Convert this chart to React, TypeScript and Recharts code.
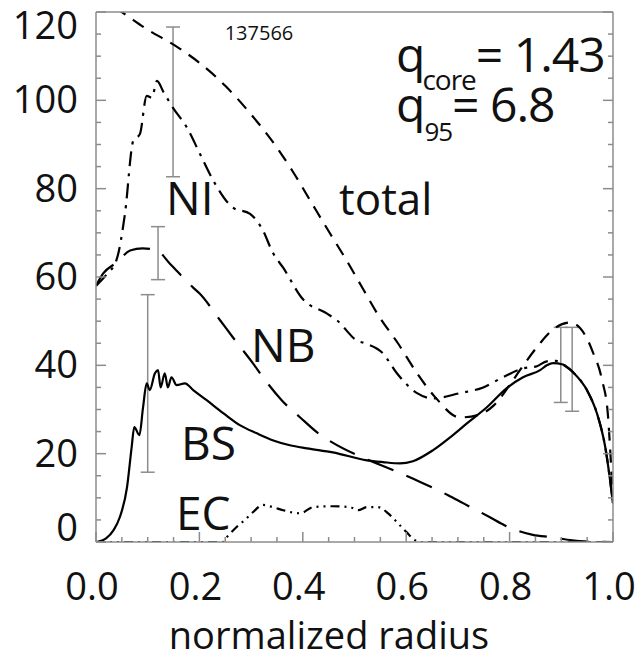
import React from 'react';
import { ComposedChart, Line, Scatter, ErrorBar, XAxis, YAxis } from 'recharts';

// current density profiles vs normalized radius
const totalR = [0, 0.052, 0.1, 0.15, 0.2, 0.25, 0.3, 0.35, 0.38, 0.42, 0.453, 0.485, 0.516, 0.549, 0.584, 0.621, 0.656, 0.704, 0.74, 0.77, 0.8, 0.82, 0.859, 0.878, 0.917, 0.95, 0.961, 0.979, 0.99, 0.994, 1.0];
const totalV = [123.7, 119.8, 116, 112.6, 108.5, 103.3, 96.8, 89.3, 84, 76.2, 69.8, 63.7, 57.4, 50.8, 45, 38.2, 32.8, 28.2, 28.8, 31, 35.5, 38.9, 45, 47.5, 49.7, 46, 43, 36.6, 29, 22, 9];

const niR = [0, 0.02, 0.04, 0.056, 0.072, 0.085, 0.098, 0.108, 0.118, 0.13, 0.137, 0.149, 0.176, 0.201, 0.227, 0.265, 0.298, 0.323, 0.342, 0.362, 0.4, 0.447, 0.466, 0.505, 0.52, 0.555, 0.582, 0.621, 0.652, 0.704, 0.749, 0.787, 0.826, 0.853, 0.872, 0.89, 0.903, 0.923, 0.95, 0.969, 0.985, 1.0];
const niV = [58, 60.5, 64, 74.3, 90.8, 92.4, 101, 100.6, 104.4, 102, 100.6, 98.3, 93.8, 87.9, 81.8, 75.7, 74.3, 70.5, 65.5, 62.1, 55, 51.7, 50.2, 45.6, 45, 42.7, 38.2, 33.7, 32.5, 33.7, 35, 37.3, 39.3, 39.8, 40.9, 41, 40.2, 38.4, 34.3, 29.1, 21.5, 8.8];

const nbR = [0, 0.014, 0.04, 0.066, 0.09, 0.118, 0.143, 0.188, 0.2, 0.24, 0.265, 0.304, 0.323, 0.36, 0.395, 0.43, 0.456, 0.514, 0.543, 0.598, 0.627, 0.681, 0.71, 0.762, 0.79, 0.845, 0.88, 0.936, 1.0];
const nbV = [58, 60.8, 63.3, 66, 66.5, 66, 63, 57.6, 56.3, 50.2, 46.3, 40.4, 37.3, 32, 28.2, 24.6, 22.6, 19.2, 17.8, 15.1, 13.6, 10.6, 8.8, 5.6, 3.8, 1.6, 1.1, 0.2, 0];

const bsR = [0, 0.02, 0.034, 0.046, 0.06, 0.069, 0.074, 0.084, 0.091, 0.098, 0.104, 0.114, 0.12, 0.125, 0.133, 0.139, 0.146, 0.156, 0.172, 0.188, 0.214, 0.246, 0.279, 0.311, 0.343, 0.375, 0.408, 0.458, 0.524, 0.555, 0.588, 0.613, 0.652, 0.685, 0.718, 0.756, 0.794, 0.826, 0.859, 0.872, 0.884, 0.903, 0.923, 0.95, 0.969, 0.985, 1.0];
const bsV = [0, 0.9, 2.7, 5.6, 12.4, 21.5, 26, 24.2, 30.5, 35.9, 34.4, 38.2, 38.9, 35, 38.2, 35, 37.3, 35.5, 35.9, 34.4, 32.1, 29.2, 26.4, 24.6, 23, 21.9, 21.2, 20.3, 18.5, 18.1, 17.8, 18.3, 20.8, 23.7, 26.9, 30.5, 34.8, 37.3, 38.9, 40, 40.5, 40.2, 38.4, 34.3, 29.1, 21.5, 8.8];

const ecR = [0, 0.245, 0.253, 0.272, 0.288, 0.304, 0.323, 0.342, 0.362, 0.395, 0.42, 0.458, 0.491, 0.507, 0.524, 0.545, 0.565, 0.582, 0.6, 0.617, 0.625, 1.0];
const ecV = [0, 0, 1.1, 3.4, 5, 6.8, 8.4, 7.9, 7.2, 6.5, 7.9, 8.1, 7.9, 7.2, 7.9, 7.9, 6.5, 4.5, 2.3, 0.4, 0, 0];

// error bars
const errR = [0.1, 0.12, 0.149, 0.899, 0.921];
const errLow = [15.8, 59.4, 82.7, 31.6, 29.6];
const errHigh = [56, 71.4, 116.6, 48.6, 48.6];

const xTicks = Array.from({ length: 21 }, (_, i) => i * 0.05);
const yTicks = Array.from({ length: 25 }, (_, i) => i * 5);

const FRAME = '#8c8c8c';
const FONT = '"Open Sans", sans-serif';

const toRows = (rs: number[], vs: number[]) => rs.map((r, i) => ({ r, v: vs[i] }));

const totalData = toRows(totalR, totalV);
const niData = toRows(niR, niV);
const nbData = toRows(nbR, nbV);
const bsData = toRows(bsR, bsV);
const ecData = toRows(ecR, ecV);
const errData = errR.map((r, i) => {
  const mid = (errLow[i] + errHigh[i]) / 2;
  return { r, v: mid, err: [mid - errLow[i], errHigh[i] - mid] };
});

const isMajor = (v: number, step: number) => Math.abs(v / step - Math.round(v / step)) < 1e-6;

const BottomTick = (props: any) => {
  const { x, y, payload } = props;
  const major = isMajor(payload.value, 0.2);
  return (
    <g>
      <line x1={x} x2={x} y1={y} y2={y - (major ? 10 : 5)} stroke={FRAME} strokeWidth={1.5} />
      {major && (
        <text x={x - 4} y={y + 58} textAnchor="middle" fontSize={38} fontFamily={FONT} fill="#111">
          {payload.value.toFixed(1)}
        </text>
      )}
    </g>
  );
};

const TopTick = (props: any) => {
  const { x, y, payload } = props;
  const major = isMajor(payload.value, 0.2);
  return <line x1={x} x2={x} y1={y} y2={y + (major ? 10 : 5)} stroke={FRAME} strokeWidth={1.5} />;
};

const LeftTick = (props: any) => {
  const { x, y, payload } = props;
  const v = payload.value;
  const major = isMajor(v, 20);
  // end labels sit inside the frame in the original
  const shift = v === 0 ? -14 : v === 120 ? 14 : 0;
  return (
    <g>
      <line x1={x} x2={x + (major ? 10 : 5)} y1={y} y2={y} stroke={FRAME} strokeWidth={1.5} />
      {major && (
        <text x={x - 18} y={y + shift + 13} textAnchor="end" fontSize={38} fontFamily={FONT} fill="#111">
          {v}
        </text>
      )}
    </g>
  );
};

const RightTick = (props: any) => {
  const { x, y, payload } = props;
  const major = isMajor(payload.value, 20);
  return <line x1={x} x2={x - (major ? 10 : 5)} y1={y} y2={y} stroke={FRAME} strokeWidth={1.5} />;
};

const NoDot = () => <g />;

const App: React.FC = () => {
  return (
    <div style={{ position: 'absolute', left: 0, top: 0, width: 640, height: 657, background: '#fff' }}>
      <ComposedChart width={640} height={657} margin={{ top: 0, right: 0, bottom: 0, left: 0 }}>
        <XAxis
          xAxisId={0}
          dataKey="r"
          type="number"
          domain={[0, 1]}
          allowDataOverflow
          ticks={xTicks}
          interval={0}
          height={115}
          tickSize={0}
          tickMargin={0}
          tickLine={false}
          tick={<BottomTick />}
          axisLine={{ stroke: FRAME, strokeWidth: 1.5 }}
        />
        <XAxis
          xAxisId="top"
          orientation="top"
          type="number"
          domain={[0, 1]}
          allowDataOverflow
          ticks={xTicks}
          interval={0}
          height={12}
          tickSize={0}
          tickMargin={0}
          tickLine={false}
          tick={<TopTick />}
          axisLine={{ stroke: FRAME, strokeWidth: 1.5 }}
        />
        <YAxis
          yAxisId={0}
          dataKey="v"
          type="number"
          domain={[0, 120]}
          allowDataOverflow
          ticks={yTicks}
          interval={0}
          width={96}
          tickSize={0}
          tickMargin={0}
          tickLine={false}
          tick={<LeftTick />}
          axisLine={{ stroke: FRAME, strokeWidth: 1.5 }}
        />
        <YAxis
          yAxisId="right"
          orientation="right"
          type="number"
          domain={[0, 120]}
          allowDataOverflow
          ticks={yTicks}
          interval={0}
          width={27}
          tickSize={0}
          tickMargin={0}
          tickLine={false}
          tick={<RightTick />}
          axisLine={{ stroke: FRAME, strokeWidth: 1.5 }}
        />

        <Scatter data={errData} dataKey="v" shape={<NoDot />} isAnimationActive={false}>
          <ErrorBar dataKey="err" direction="y" width={7} stroke={FRAME} strokeWidth={1.5} isAnimationActive={false} />
        </Scatter>

        <Line data={totalData} dataKey="v" type="monotone" stroke="#000" strokeWidth={2.2} strokeDasharray="13 9" dot={false} isAnimationActive={false} />
        <Line data={niData} dataKey="v" type="monotone" stroke="#000" strokeWidth={2.2} strokeDasharray="15 7 3 7" dot={false} isAnimationActive={false} />
        <Line data={nbData} dataKey="v" type="monotone" stroke="#000" strokeWidth={2.2} strokeDasharray="28 14" dot={false} isAnimationActive={false} />
        <Line data={bsData} dataKey="v" type="monotone" stroke="#000" strokeWidth={2.2} dot={false} isAnimationActive={false} />
        <Line data={ecData} dataKey="v" type="monotone" stroke="#000" strokeWidth={2.2} strokeDasharray="9 5 2 5 2 5" dot={false} isAnimationActive={false} />
      </ComposedChart>

      <svg width={640} height={657} style={{ position: 'absolute', left: 0, top: 0, pointerEvents: 'none' }} fontFamily={FONT} fill="#111">
        <text x={259} y={40} fontSize={20} textAnchor="middle">137566</text>
        <text x={396} y={72} fontSize={48} letterSpacing={-1}>
          q<tspan fontSize={28} dy={18} dx={-2}>core</tspan>
          <tspan fontSize={48} dy={-18}>= 1.43</tspan>
        </text>
        <text x={396} y={122} fontSize={48} letterSpacing={-1}>
          q<tspan fontSize={26} dy={19} dx={0}>95</tspan>
          <tspan fontSize={48} dy={-19}>= 6.8</tspan>
        </text>
        <text x={166} y={215} fontSize={46}>NI</text>
        <text x={339} y={215} fontSize={44}>total</text>
        <text x={251} y={362} fontSize={46}>NB</text>
        <text x={181} y={460} fontSize={46}>BS</text>
        <text x={176} y={530} fontSize={46}>EC</text>
        <text x={329} y={649} fontSize={38} textAnchor="middle">normalized radius</text>
      </svg>
    </div>
  );
};

export default App;
